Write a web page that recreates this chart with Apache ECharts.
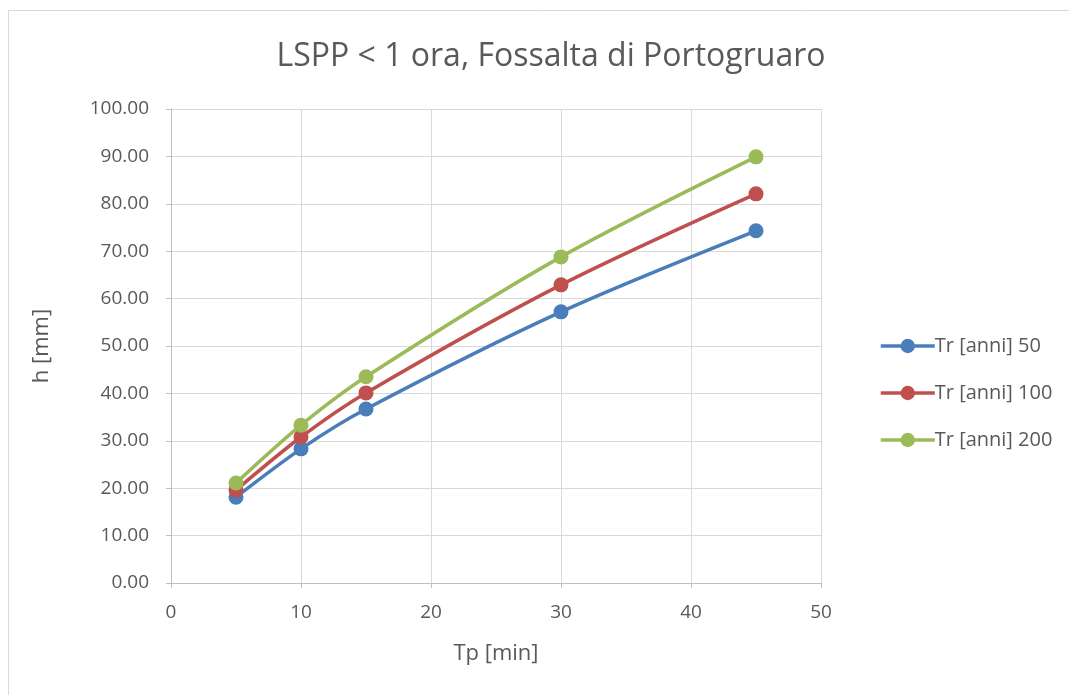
<!DOCTYPE html>
<html>
<head>
<meta charset="utf-8">
<script src="https://cdn.jsdelivr.net/npm/echarts@6/dist/echarts.min.js"></script>
<style>
  html, body { margin: 0; padding: 0; background: #fff; }
  #chart { width: 1069px; height: 695px; }
</style>
</head>
<body>
<div id="chart"></div>
<script>
// durata pioggia [min]
var durations = [5, 10, 15, 30, 45];
// altezze di pioggia [mm] per tempo di ritorno
var tr50 = [18.1, 28.3, 36.7, 57.2, 74.3];
var tr100 = [19.6, 30.8, 40.1, 62.9, 82.1];
var tr200 = [21.1, 33.3, 43.5, 68.8, 89.9];
var seriesNames = ["Tr [anni] 50", "Tr [anni] 100", "Tr [anni] 200"];
var colors = ["#4a7ebb", "#c0504d", "#9bbb59"];

var font = "Open Sans";
var chart = echarts.init(document.getElementById("chart"));

function pairs(vals) {
  return durations.map(function (d, i) {
    return [d, vals[i]];
  });
}

var allData = [tr50, tr100, tr200];
var series = allData.map(function (vals, i) {
  return {
    name: seriesNames[i],
    type: "line",
    smooth: 0.3,
    data: pairs(vals),
    symbol: "circle",
    symbolSize: 15,
    color: colors[i],
    lineStyle: { width: 3.5, color: colors[i] },
    itemStyle: { color: colors[i] },
  };
});

chart.setOption({
  animation: false,
  backgroundColor: "#fff",
  title: {
    text: "LSPP < 1 ora, Fossalta di Portogruaro",
    left: 546,
    textAlign: "center",
    top: 36,
    textStyle: {
      fontFamily: font,
      fontSize: 32,
      fontWeight: "normal",
      color: "#595959",
    },
  },
  legend: {
    orient: "vertical",
    left: 874,
    top: 331,
    itemWidth: 54,
    itemHeight: 18,
    itemGap: 27,
    lineStyle: { width: 3.5 },
    textStyle: {
      fontFamily: font,
      fontSize: 20,
      lineHeight: 20,
      color: "#595959",
      padding: [0, 0, 0, -5],
    },
    data: seriesNames,
  },
  grid: {
    left: 171,
    right: 1069 - 821,
    top: 109,
    bottom: 695 - 583,
    containLabel: false,
  },
  xAxis: {
    type: "value",
    min: 0,
    max: 50,
    interval: 10,
    name: "Tp [min]",
    nameLocation: "middle",
    nameGap: 60,
    nameTextStyle: { fontFamily: font, fontSize: 22, color: "#595959" },
    axisLine: { lineStyle: { color: "#bfbfbf", width: 1 } },
    axisTick: { show: true, length: 5, lineStyle: { color: "#bfbfbf" } },
    axisLabel: { fontFamily: font, fontSize: 19, color: "#595959", margin: 20 },
    splitLine: { show: true, lineStyle: { color: "#d9d9d9", width: 1 } },
  },
  yAxis: {
    type: "value",
    min: 0,
    max: 100,
    interval: 10,
    name: "h [mm]",
    nameLocation: "middle",
    nameGap: 118,
    nameTextStyle: { fontFamily: font, fontSize: 22, color: "#595959" },
    axisLine: { show: true, lineStyle: { color: "#bfbfbf", width: 1 } },
    axisTick: { show: true, length: 5, lineStyle: { color: "#bfbfbf" } },
    axisLabel: {
      fontFamily: font,
      fontSize: 19,
      color: "#595959",
      margin: 22,
      formatter: function (v) {
        return v.toFixed(2);
      },
    },
    splitLine: { show: true, lineStyle: { color: "#d9d9d9", width: 1 } },
  },
  series: series,
  graphic: [
    {
      type: "rect",
      shape: { x: 8.5, y: 10.5, width: 1100, height: 700 },
      style: { fill: "none", stroke: "#d9d9d9", lineWidth: 1 },
      silent: true,
      z: -1,
    },
  ],
});
</script>
</body>
</html>
